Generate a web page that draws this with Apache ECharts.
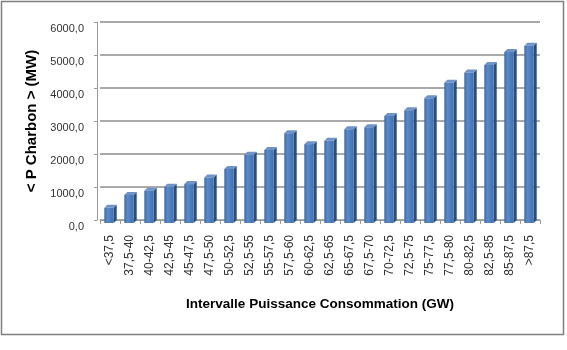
<!DOCTYPE html>
<html>
<head>
<meta charset="utf-8">
<script src="https://cdn.jsdelivr.net/npm/echarts@6/dist/echarts.min.js"></script>
<style>
html,body{margin:0;padding:0;background:#fff;}
#chart{width:567px;height:350px;}
</style>
</head>
<body>
<div id="chart"></div>
<script>
var categories = ['<37,5','37,5-40','40-42,5','42,5-45','45-47,5','47,5-50','50-52,5','52,5-55','55-57,5','57,5-60','60-62,5','62,5-65','65-67,5','67,5-70','70-72,5','72,5-75','75-77,5','77,5-80','80-82,5','82,5-85','85-87,5','>87,5'];
var values = [460, 850, 980, 1095, 1180, 1380, 1640, 2065, 2215, 2720, 2390, 2490, 2840, 2900, 3240, 3415, 3780, 4250, 4560, 4785, 5180, 5370];
var yTicks = [0, 1000, 2000, 3000, 4000, 5000, 6000];

var chart = echarts.init(document.getElementById('chart'), null, {renderer: 'canvas'});

function renderBar(params, api) {
  var i = api.value(0);
  var v = api.value(1);
  var base = api.coord([i, 0]);
  var top = api.coord([i, v]);
  var band = api.size([1, 0])[0];
  var w = band * 0.47;
  var d = 3;
  var x0 = base[0] - w / 2 - 1;
  var x1 = x0 + w;
  var yb = base[1] + d;
  var yt = top[1] + d;
  return {
    type: 'group',
    children: [
      {type: 'polygon', shape: {points: [[x1, yb], [x1 + d, yb - d], [x1 + d, yt - d], [x1, yt]]},
       style: {fill: '#2C4D75'}},
      {type: 'polygon', shape: {points: [[x0, yt], [x1, yt], [x1 + d, yt - d], [x0 + d, yt - d]]},
       style: {fill: '#6E93C8'}},
      {type: 'rect', shape: {x: x0, y: yt, width: w, height: yb - yt},
       style: {fill: new echarts.graphic.LinearGradient(0, 0, 1, 0, [
         {offset: 0, color: '#3C6BA6'}, {offset: 0.35, color: '#5A8ACB'}, {offset: 1, color: '#426FAD'}])}}
    ]
  };
}

chart.setOption({
  backgroundColor: '#ffffff',
  animation: false,
  grid: {left: 100, right: 27, top: 22, bottom: 130},
  graphic: [{
    type: 'rect', silent: true,
    shape: {x: 1.5, y: 1.5, width: 562, height: 333},
    style: {fill: 'none', stroke: '#7f7f7f', lineWidth: 1.5}
  }],
  xAxis: {
    type: 'category',
    data: categories,
    offset: 6,
    name: 'Intervalle Puissance Consommation (GW)',
    nameLocation: 'middle',
    nameGap: 71,
    nameTextStyle: {fontFamily: 'Liberation Sans', fontWeight: 'bold', fontSize: 13.5, color: '#000'},
    axisLine: {lineStyle: {color: '#9a9a9a'}},
    axisTick: {show: true, alignWithLabel: false, length: 4, lineStyle: {color: '#9a9a9a'}},
    axisLabel: {rotate: 90, margin: 9, interval: 0, fontFamily: 'Liberation Sans', fontSize: 12, color: '#333'}
  },
  yAxis: {
    type: 'value',
    min: 0, max: 6000, interval: 1000,
    offset: 3,
    name: '< P Charbon > (MW)',
    nameLocation: 'middle',
    nameGap: 56,
    nameTextStyle: {fontFamily: 'Liberation Sans', fontWeight: 'bold', fontSize: 15, color: '#000'},
    axisLine: {show: true, lineStyle: {color: '#9a9a9a'}},
    axisTick: {show: true, length: 3, lineStyle: {color: '#9a9a9a'}},
    splitLine: {lineStyle: {color: '#8c8c8c', width: 1.5}},
    axisLabel: {
      margin: 13, fontFamily: 'Liberation Sans', fontSize: 11, color: '#333',
      verticalAlign: 'top', lineHeight: 14,
      formatter: function (v) { return yTicks.indexOf(v) >= 0 ? v.toFixed(1).replace('.', ',') : ''; }
    }
  },
  series: [{
    type: 'custom',
    renderItem: renderBar,
    encode: {x: 0, y: 1},
    data: values.map(function (v, i) { return [i, v]; })
  }]
});
</script>
</body>
</html>
